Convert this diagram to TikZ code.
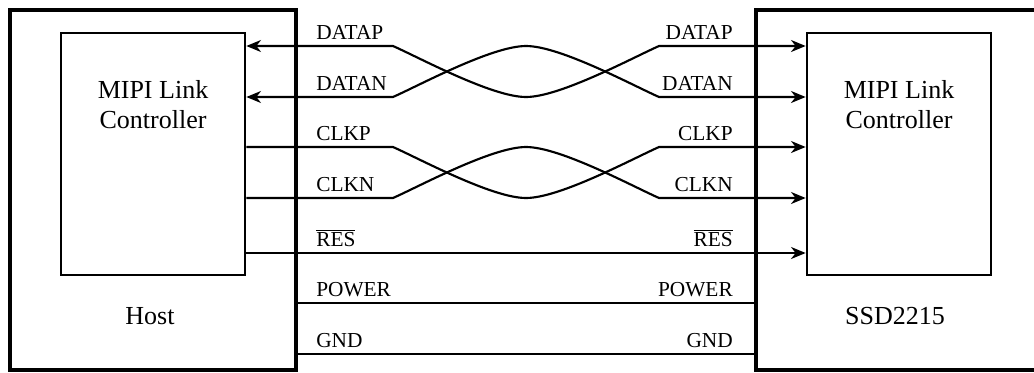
\documentclass[tikz,border=0pt]{standalone}
\usepackage{fontspec}
\setmainfont{Liberation Serif}
\usetikzlibrary{arrows.meta}

\tikzset{
  outerbox/.style={draw, line width=3pt, inner sep=0pt},
  ctlbox/.style={draw, line width=2pt, inner sep=0pt, minimum width=138pt, minimum height=181.5pt},
  wire/.style={line width=1.6pt},
  tip/.tip={Stealth[length=11pt,width=9pt,inset=3.5pt]},
  siglabel/.style={font=\fontsize{16}{18}\selectfont, inner sep=0pt},
  boxlabel/.style={font=\fontsize{19.5}{22.5}\selectfont, align=center, inner sep=0pt},
}

\begin{document}
\begin{tikzpicture}[x=0.75pt,y=0.75pt,yscale=-1,xscale=1]
\useasboundingbox (0,0) rectangle (1034,372);
\clip (0,0) rectangle (1034,372);

%Shape: Rectangle
\node[outerbox, minimum width=214.5pt, minimum height=270pt] (host) at (153,190) {};
%Shape: Rectangle
\node[outerbox, minimum width=258pt, minimum height=270pt] (ssd) at (928,190) {};
%Shape: Rectangle
\node[ctlbox] (hostctl) at (153,154) {};
%Shape: Rectangle
\node[ctlbox] (ssdctl) at (899,154) {};

% signal rows
\coordinate (dp) at (0,46);
\coordinate (dn) at (0,97);
\coordinate (cp) at (0,147);
\coordinate (cn) at (0,198);
\coordinate (rs) at (0,253);
\coordinate (pw) at (0,303);
\coordinate (gd) at (0,354);

%Curve Lines
\draw[wire, tip-tip] (hostctl.east |- dp) -- (393,46) .. controls (420,58) and (492,97) .. (526,97) .. controls (560,97) and (632,58) .. (659,46) -- (ssdctl.west |- dp);
%Curve Lines
\draw[wire, tip-tip] (hostctl.east |- dn) -- (393,97) .. controls (420,85) and (492,46) .. (526,46) .. controls (560,46) and (632,85) .. (659,97) -- (ssdctl.west |- dn);
%Curve Lines
\draw[wire, -tip] (hostctl.east |- cp) -- (393,147) .. controls (420,159) and (492,198) .. (526,198) .. controls (560,198) and (632,159) .. (659,147) -- (ssdctl.west |- cp);
%Curve Lines
\draw[wire, -tip] (hostctl.east |- cn) -- (393,198) .. controls (420,186) and (492,147) .. (526,147) .. controls (560,147) and (632,186) .. (659,198) -- (ssdctl.west |- cn);

%Straight Lines
\draw[wire, -tip] (hostctl.east |- rs) -- (ssdctl.west |- rs);
%Straight Lines
\draw[wire] (host.east |- pw) -- (ssd.west |- pw);
%Straight Lines
\draw[wire] (host.east |- gd) -- (ssd.west |- gd);

% Text Node
\node[boxlabel] (hostctltxt) at (153,105) {MIPI Link\\Controller};
% Text Node
\node[boxlabel] (ssdctltxt) at (899,105) {MIPI Link\\Controller};
% Text Node
\node[boxlabel] (hosttxt) at (150,316) {Host};
% Text Node
\node[boxlabel] (ssdtxt) at (895,316) {SSD2215};

% Text Node
\node[siglabel, anchor=base west] (dpl) at (316,39) {DATAP};
\node[siglabel, anchor=base west] (dnl) at (316,90) {DATAN};
\node[siglabel, anchor=base west] (cpl) at (316,140) {CLKP};
\node[siglabel, anchor=base west] (cnl) at (316,191) {CLKN};
\node[siglabel, anchor=base west] (rsl) at (316,246) {$\overline{\mbox{RES}}$};
\node[siglabel, anchor=base west] (pwl) at (316,296) {POWER};
\node[siglabel, anchor=base west] (gdl) at (316,347) {GND};
% Text Node
\node[siglabel, anchor=base east] (dpr) at (733,39) {DATAP};
\node[siglabel, anchor=base east] (dnr) at (733,90) {DATAN};
\node[siglabel, anchor=base east] (cpr) at (733,140) {CLKP};
\node[siglabel, anchor=base east] (cnr) at (733,191) {CLKN};
\node[siglabel, anchor=base east] (rsr) at (733,246) {$\overline{\mbox{RES}}$};
\node[siglabel, anchor=base east] (pwr) at (733,296) {POWER};
\node[siglabel, anchor=base east] (gdr) at (733,347) {GND};

\end{tikzpicture}
\end{document}
